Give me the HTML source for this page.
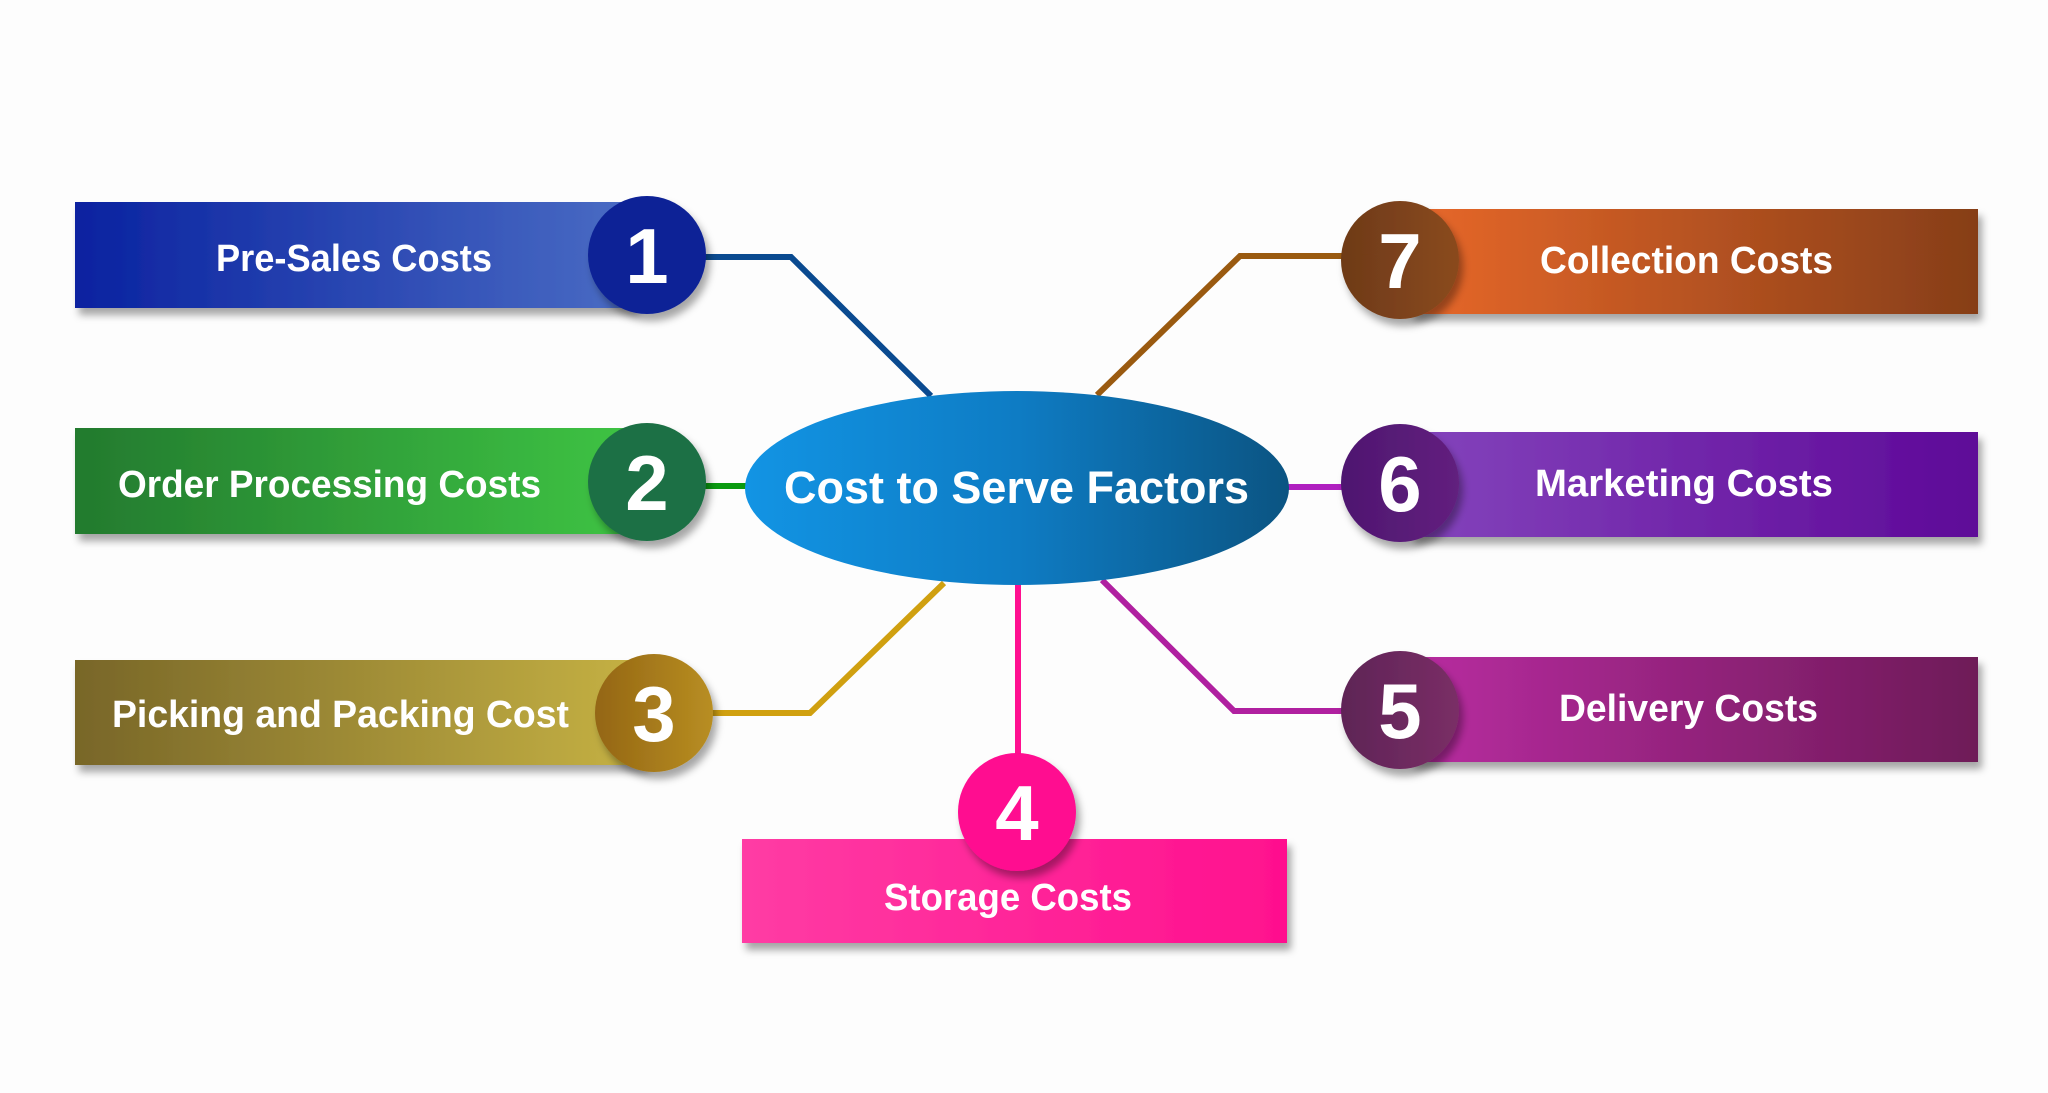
<!DOCTYPE html>
<html><head><meta charset="utf-8"><style>
html,body{margin:0;padding:0;background:#fdfdfd;}
svg{display:block;}
text{font-family:"Liberation Sans",sans-serif;font-weight:bold;fill:#fff;}
</style></head><body>
<svg width="2048" height="1093" viewBox="0 0 2048 1093" xmlns="http://www.w3.org/2000/svg">
<defs>
<filter id="sh" x="-10%" y="-20%" width="130%" height="160%"><feDropShadow dx="4" dy="7" stdDeviation="4" flood-color="#000" flood-opacity="0.35"/></filter>
<linearGradient id="g1"><stop offset="0" stop-color="#0a22a0"/><stop offset="1" stop-color="#4a6cc4"/></linearGradient>
<linearGradient id="g2"><stop offset="0" stop-color="#237a2e"/><stop offset="1" stop-color="#3ec444"/></linearGradient>
<linearGradient id="g3"><stop offset="0" stop-color="#786628"/><stop offset="1" stop-color="#c6b244"/></linearGradient>
<linearGradient id="g4"><stop offset="0" stop-color="#ff3ca4"/><stop offset="1" stop-color="#ff108e"/></linearGradient>
<linearGradient id="g7"><stop offset="0" stop-color="#e8682a"/><stop offset="1" stop-color="#863e18"/></linearGradient>
<linearGradient id="g6"><stop offset="0" stop-color="#8444bc"/><stop offset="1" stop-color="#5e0898"/></linearGradient>
<linearGradient id="g5"><stop offset="0" stop-color="#b82ca0"/><stop offset="1" stop-color="#6e1a58"/></linearGradient>
<linearGradient id="ge"><stop offset="0" stop-color="#1294e4"/><stop offset="0.5" stop-color="#0e7cc4"/><stop offset="1" stop-color="#0b5482"/></linearGradient>
<linearGradient id="c3"><stop offset="0" stop-color="#946614"/><stop offset="1" stop-color="#b88e22"/></linearGradient>
<linearGradient id="c7"><stop offset="0" stop-color="#6e3a18"/><stop offset="1" stop-color="#8a4a1e"/></linearGradient>
<linearGradient id="c6"><stop offset="0" stop-color="#4e1670"/><stop offset="1" stop-color="#62207e"/></linearGradient>
<linearGradient id="c5"><stop offset="0" stop-color="#5e2456"/><stop offset="1" stop-color="#7a2e66"/></linearGradient>
</defs>

<!-- connectors -->
<g fill="none" stroke-width="6">
<polyline points="705,257 791,257 931,396" stroke="#0a4a90"/>
<polyline points="705,486 748,486" stroke="#0a9a10"/>
<polyline points="712,713 810,713 944,583" stroke="#d0a010"/>
<polyline points="1018,583 1018,760" stroke="#ff1090"/>
<polyline points="1344,711 1234,711 1102,580" stroke="#b020a0"/>
<polyline points="1288,487 1344,487" stroke="#b020c0"/>
<polyline points="1344,256 1240,256 1097,395" stroke="#9a5a10"/>
</g>

<!-- bars -->
<g filter="url(#sh)">
<rect x="75" y="202" width="560" height="106" fill="url(#g1)"/>
<rect x="75" y="428" width="560" height="106" fill="url(#g2)"/>
<rect x="75" y="660" width="570" height="105" fill="url(#g3)"/>
<rect x="742" y="839" width="545" height="104" fill="url(#g4)"/>
<rect x="1410" y="209" width="568" height="105" fill="url(#g7)"/>
<rect x="1410" y="432" width="568" height="105" fill="url(#g6)"/>
<rect x="1410" y="657" width="568" height="105" fill="url(#g5)"/>
</g>

<!-- circles -->
<g filter="url(#sh)">
<circle cx="647" cy="255" r="59" fill="#0b2096"/>
<circle cx="647" cy="482" r="59" fill="#1d7044"/>
<circle cx="654" cy="713" r="59" fill="url(#c3)"/>
<circle cx="1017" cy="812" r="59" fill="#ff0890"/>
<circle cx="1400" cy="260" r="59" fill="url(#c7)"/>
<circle cx="1400" cy="483" r="59" fill="url(#c6)"/>
<circle cx="1400" cy="710" r="59" fill="url(#c5)"/>
</g>

<ellipse cx="1017" cy="488" rx="272" ry="97" fill="url(#ge)"/>

<!-- numbers -->
<g font-size="78" text-anchor="middle">
<text x="647" y="283">1</text>
<text x="647" y="510">2</text>
<text x="654" y="741">3</text>
<text x="1017" y="840">4</text>
<text x="1400" y="288">7</text>
<text x="1400" y="511">6</text>
<text x="1400" y="738">5</text>
</g>

<!-- labels -->
<g font-size="38">
<text x="216" y="271" textLength="276" lengthAdjust="spacingAndGlyphs">Pre-Sales Costs</text>
<text x="118" y="497" textLength="423" lengthAdjust="spacingAndGlyphs">Order Processing Costs</text>
<text x="112" y="727" textLength="457" lengthAdjust="spacingAndGlyphs">Picking and Packing Cost</text>
<text x="884" y="910" textLength="248" lengthAdjust="spacingAndGlyphs">Storage Costs</text>
<text x="1540" y="273" textLength="293" lengthAdjust="spacingAndGlyphs">Collection Costs</text>
<text x="1535" y="496" textLength="298" lengthAdjust="spacingAndGlyphs">Marketing Costs</text>
<text x="1559" y="721" textLength="259" lengthAdjust="spacingAndGlyphs">Delivery Costs</text>
<text x="784" y="503" font-size="45" textLength="465" lengthAdjust="spacingAndGlyphs">Cost to Serve Factors</text>
</g>
</svg>
</body></html>
